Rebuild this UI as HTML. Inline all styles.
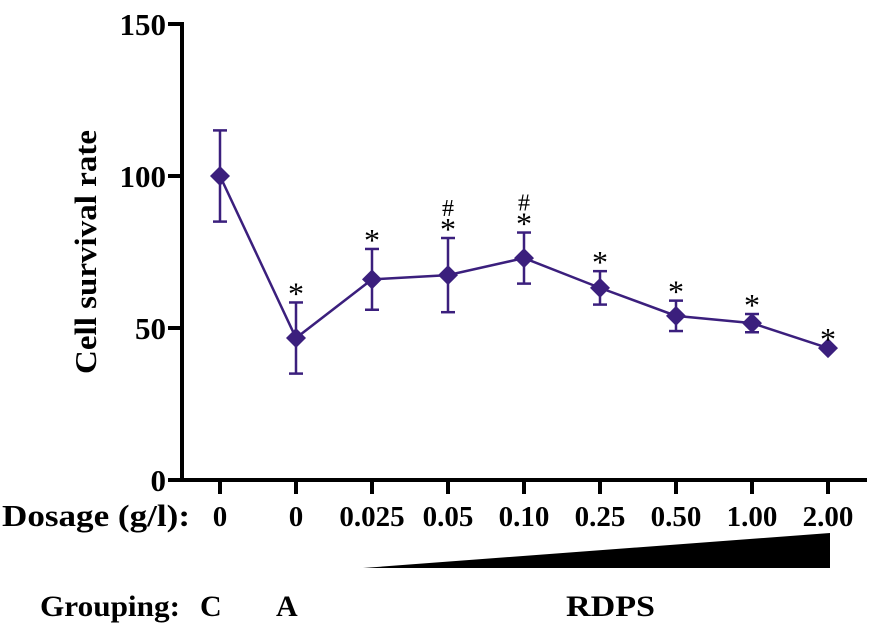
<!DOCTYPE html>
<html><head><meta charset="utf-8"><style>
body{margin:0;background:#fff;}
svg{display:block;font-family:"Liberation Serif",serif;}
</style></head><body>
<svg width="869" height="634">
<g id="axes"></g>
<g id="plot"></g>
<text x="0" y="0" transform="translate(96,252) rotate(-90)" text-anchor="middle" font-size="31" font-weight="bold" textLength="244" lengthAdjust="spacingAndGlyphs">Cell survival rate</text>
<text x="2" y="526" font-size="31" font-weight="bold" textLength="188" lengthAdjust="spacingAndGlyphs">Dosage (g/l):</text>
<polygon points="363,568 830,533 830,568" fill="#000"/>
<text x="40" y="616" font-size="30" font-weight="bold" textLength="140" lengthAdjust="spacingAndGlyphs">Grouping:</text>
<text x="200" y="616" font-size="30" font-weight="bold">C</text>
<text x="276" y="616" font-size="30" font-weight="bold">A</text>
<text x="566" y="616" font-size="30" font-weight="bold" textLength="89" lengthAdjust="spacingAndGlyphs">RDPS</text>
</svg>
<script>
const categories=["0","0","0.025","0.05","0.10","0.25","0.50","1.00","2.00"];
const means=[100,46.7,66,67.4,73,63.2,54,51.6,43.4];
const errs=[15,11.7,10,12.2,8.4,5.5,5,3,0];
const stars=[false,true,true,true,true,true,true,true,true];
const hashes=[false,false,false,true,true,false,false,false,false];
const yTicks=[0,50,100,150];
const NS="http://www.w3.org/2000/svg";
const x0=220,dx=76.0,yBase=480,yTop=24,yMax=150;
const xs=i=>x0+i*dx;
const ys=v=>yBase-(v/yMax)*(yBase-yTop);
function mk(t,a,p){const e=document.createElementNS(NS,t);for(const k in a)e.setAttribute(k,a[k]);p.appendChild(e);return e;}
const ax=document.getElementById('axes'),pl=document.getElementById('plot');
let l=mk('line',{x1:182,y1:yTop-2,x2:182,y2:yBase+2,stroke:'#000','stroke-width':4},ax);


l=mk('line',{x1:180,y1:yBase,x2:867,y2:yBase,stroke:'#000','stroke-width':4},ax);


yTicks.forEach(v=>{
 const t=mk('line',{x1:168,y1:ys(v),x2:182,y2:ys(v),stroke:'#000','stroke-width':4},ax);
 
 
 const tx=mk('text',{x:166,y:ys(v)+11,'text-anchor':'end','font-size':31,'font-weight':'bold'},ax);
 tx.textContent=v;
 
 
});
categories.forEach((c,i)=>{
 const t=mk('line',{x1:xs(i),y1:yBase,x2:xs(i),y2:yBase+14,stroke:'#000','stroke-width':4},ax);
 
 
 const tx=mk('text',{x:xs(i),y:526,'text-anchor':'middle','font-size':29,'font-weight':'bold'},ax);
 tx.textContent=c;
 
 
});
const col='#3b1f7d';
const pts=means.map((m,i)=>xs(i)+','+ys(m)).join(' ');
const pline=mk('polyline',{points:pts,fill:'none',stroke:col,'stroke-width':2.5},pl);


means.forEach((m,i)=>{
 const x=xs(i);
 if(errs[i]>0){
  const g=mk('g',{stroke:col,'stroke-width':2.5},pl);
  
  
  mk('line',{x1:x,y1:ys(m+errs[i]),x2:x,y2:ys(m-errs[i])},g);
  mk('line',{x1:x-7,y1:ys(m+errs[i]),x2:x+7,y2:ys(m+errs[i])},g);
  mk('line',{x1:x-7,y1:ys(m-errs[i]),x2:x+7,y2:ys(m-errs[i])},g);
 }
 const y=ys(m);
 const d=mk('polygon',{points:`${x},${y-10} ${x+10},${y} ${x},${y+10} ${x-10},${y}`,fill:col},pl);
 
 
 const top=ys(m+errs[i]);
 if(stars[i]){
  const s=mk('text',{x:x,y:top+2,'text-anchor':'middle','font-size':32},pl);
  s.textContent='*';
  
  
 }
 if(hashes[i]){
  const h=mk('text',{x:x,y:top-22,'text-anchor':'middle','font-size':24},pl);
  h.textContent='#';
  
  
 }
});
</script>
</body></html>
